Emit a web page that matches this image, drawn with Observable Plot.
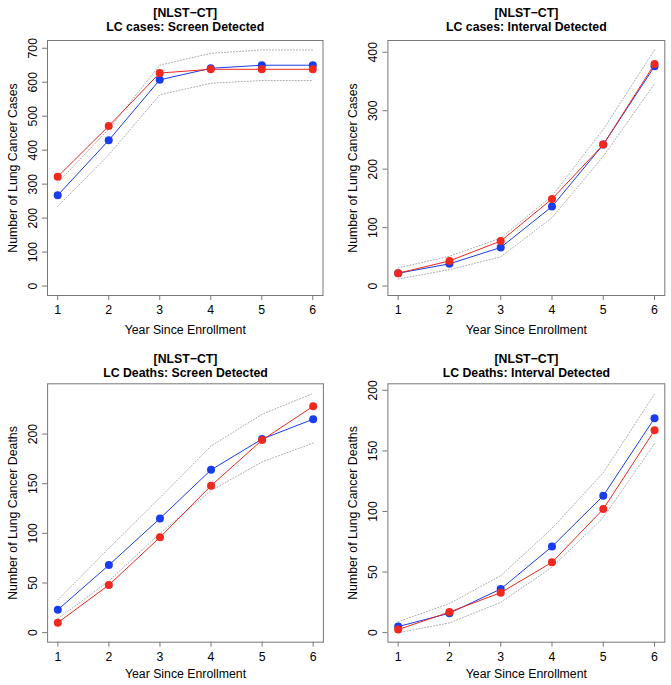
<!DOCTYPE html>
<html>
<head>
<meta charset="utf-8">
<script src="https://cdn.jsdelivr.net/npm/d3@7"></script>
<script src="https://cdn.jsdelivr.net/npm/@observablehq/plot@0.6"></script>
<style>
  html, body { margin: 0; padding: 0; background: #fff; }
  #root { position: relative; width: 671px; height: 685px; background: #fff; overflow: hidden; }
  .panel { position: absolute; }
</style>
</head>
<body>
<div id="root"></div>
<script>
// ---- data ----
const years = [1, 2, 3, 4, 5, 6];

// LC cases: Screen Detected
const casesScreenBlue  = [267, 429, 607, 641, 650, 650];
const casesScreenRed   = [322, 471, 627, 638, 638, 638];
const casesScreenUpper = [304, 462, 650, 685, 695, 695];
const casesScreenLower = [235, 386, 563, 597, 605, 605];
const casesScreenTicks = [0, 100, 200, 300, 400, 500, 600, 700];

// LC cases: Interval Detected
const casesIntervalBlue  = [22, 38, 66, 136, 242, 376];
const casesIntervalRed   = [22, 43, 77, 149, 242, 380];
const casesIntervalUpper = [31, 51, 82, 154, 268, 404];
const casesIntervalLower = [12, 28, 50, 117, 222, 346];
const casesIntervalTicks = [0, 100, 200, 300, 400];

// LC Deaths: Screen Detected
const deathsScreenBlue  = [23, 68, 115, 164, 195, 215];
const deathsScreenRed   = [10, 48, 96, 148, 194, 228];
const deathsScreenUpper = [33, 85, 136, 188, 220, 241];
const deathsScreenLower = [14, 52, 100, 143, 172, 191];
const deathsScreenTicks = [0, 50, 100, 150, 200];

// LC Deaths: Interval Detected
const deathsIntervalBlue  = [5, 16, 36, 71, 113, 177];
const deathsIntervalRed   = [2.5, 17, 33, 58, 102, 167];
const deathsIntervalUpper = [9, 24, 47, 86, 132, 197];
const deathsIntervalLower = [0, 8, 25, 54, 95, 156];
const deathsIntervalTicks = [0, 50, 100, 150, 200];

const titleTop = "[NLST\u2212CT]";
const xLabel = "Year Since Enrollment";

const panels = [
  {left: 0, top: 0, width: 335, height: 340, mL: 47, mR: 12.5, mT: 40, mB: 45,
   t1dy: -27.3, t2dy: -13.6, xlabDy: 34.3,
   title: "LC cases: Screen Detected", ylabel: "Number of Lung Cancer Cases",
   ylim: [0, 695], ticks: casesScreenTicks,
   blue: casesScreenBlue, red: casesScreenRed, upper: casesScreenUpper, lower: casesScreenLower},
  {left: 335, top: 0, width: 336, height: 340, mL: 52.4, mR: 6.7, mT: 40, mB: 45,
   t1dy: -27.3, t2dy: -13.6, xlabDy: 34.3,
   title: "LC cases: Interval Detected", ylabel: "Number of Lung Cancer Cases",
   ylim: [0, 404], ticks: casesIntervalTicks,
   blue: casesIntervalBlue, red: casesIntervalRed, upper: casesIntervalUpper, lower: casesIntervalLower},
  {left: 0, top: 340, width: 335, height: 345, mL: 47.1, mR: 12.1, mT: 43.3, mB: 43.3,
   t1dy: -25, t2dy: -11, xlabDy: 31.6,
   title: "LC Deaths: Screen Detected", ylabel: "Number of Lung Cancer Deaths",
   ylim: [0, 241], ticks: deathsScreenTicks,
   blue: deathsScreenBlue, red: deathsScreenRed, upper: deathsScreenUpper, lower: deathsScreenLower},
  {left: 335, top: 340, width: 336, height: 345, mL: 52.4, mR: 6.7, mT: 43.3, mB: 43.3,
   t1dy: -25, t2dy: -11, xlabDy: 31.6,
   title: "LC Deaths: Interval Detected", ylabel: "Number of Lung Cancer Deaths",
   ylim: [0, 197.5], ticks: deathsIntervalTicks,
   blue: deathsIntervalBlue, red: deathsIntervalRed, upper: deathsIntervalUpper, lower: deathsIntervalLower}
];

const BLUE = "#1a3cf0";
const RED = "#f0281e";
const GREY = "#ababab";
const AXIS = "#777";

function makePanel(p) {
  const rows = years.map((x, i) => ({x, blue: p.blue[i], red: p.red[i], up: p.upper[i], lo: p.lower[i]}));
  const pad = (p.ylim[1] - p.ylim[0]) * 0.04;
  return Plot.plot({
    width: p.width,
    height: p.height,
    marginLeft: p.mL, marginRight: p.mR, marginTop: p.mT, marginBottom: p.mB,
    style: {fontFamily: "'Liberation Sans', Arial, sans-serif", fontSize: "12.3px", color: "#000", background: "#fff", overflow: "visible"},
    x: {domain: [0.8, 6.2]},
    y: {domain: [p.ylim[0] - pad, p.ylim[1] + pad]},
    marks: [
      Plot.frame({stroke: AXIS}),
      Plot.axisX(years, {tickSize: 5, tickPadding: 5, stroke: AXIS, fill: "#000", label: null, tickFormat: d => String(d)}),
      Plot.axisY(p.ticks, {tickSize: 5, stroke: AXIS, label: null, tickFormat: () => ""}),
      Plot.text(p.ticks, {y: d => d, text: d => String(d), frameAnchor: "left", rotate: -90, dx: -14.5, textAnchor: "middle", lineAnchor: "middle", fill: "#000"}),
      Plot.text([p.ylabel], {text: d => d, frameAnchor: "left", rotate: -90, dx: -34.5, textAnchor: "middle", lineAnchor: "middle", fill: "#000"}),
      Plot.text([xLabel], {text: d => d, frameAnchor: "bottom", dy: p.xlabDy, lineAnchor: "middle", fill: "#000"}),
      Plot.text([titleTop], {text: d => d, frameAnchor: "top", dy: p.t1dy, lineAnchor: "middle", fontWeight: "bold", fill: "#000"}),
      Plot.text([p.title], {text: d => d, frameAnchor: "top", dy: p.t2dy, lineAnchor: "middle", fontWeight: "bold", fill: "#000"}),
      Plot.line(rows, {x: "x", y: "up", stroke: GREY, strokeWidth: 1, strokeDasharray: "1,2"}),
      Plot.line(rows, {x: "x", y: "lo", stroke: GREY, strokeWidth: 1, strokeDasharray: "1,2"}),
      Plot.line(rows, {x: "x", y: "blue", stroke: BLUE, strokeWidth: 1}),
      Plot.dot(rows, {x: "x", y: "blue", r: 4, fill: BLUE, stroke: "none"}),
      Plot.line(rows, {x: "x", y: "red", stroke: RED, strokeWidth: 1}),
      Plot.dot(rows, {x: "x", y: "red", r: 4, fill: RED, stroke: "none"})
    ]
  });
}

const root = document.getElementById("root");
for (const p of panels) {
  const div = document.createElement("div");
  div.className = "panel";
  div.style.left = p.left + "px";
  div.style.top = p.top + "px";
  div.appendChild(makePanel(p));
  root.appendChild(div);
}
</script>
</body>
</html>
